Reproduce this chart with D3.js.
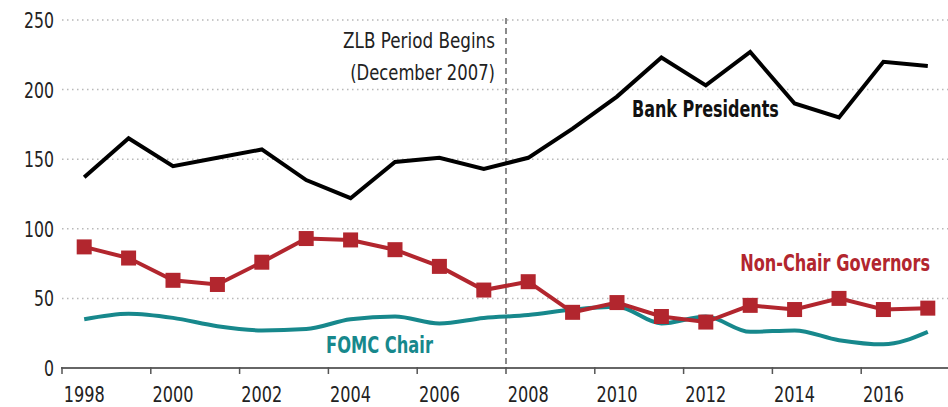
<!DOCTYPE html>
<html><head><meta charset="utf-8">
<script src="https://cdn.jsdelivr.net/npm/d3@7"></script>
<style>
html,body{margin:0;padding:0;background:#fff;}
svg{display:block;font-family:"Liberation Sans Narrow","DejaVu Sans Condensed","Liberation Sans",sans-serif;}
</style></head>
<body><svg id="c" width="948" height="407"></svg>
<script>
const years = [1998,1999,2000,2001,2002,2003,2004,2005,2006,2007,2008,2009,2010,2011,2012,2013,2014,2015,2016,2017];
const bankPresidents = [137,165,145,151,157,135,122,148,151,143,151,172,195,223,203,227,190,180,220,217];
const nonChairGovernors = [87,79,63,60,76,93,92,85,73,56,62,40,47,37,33,45,42,50,42,43];
const fomcChair = [35,39,36,30,27,28,35,37,32,36,38,42,44,32,37,26,27,20,17,26];
const yTicks = [0,50,100,150,200,250];
const xTickYears = [1998,2000,2002,2004,2006,2008,2010,2012,2014,2016];

const svg = d3.select("#c");
const x = d3.scaleLinear().domain([1998, 2018]).range([62, 950]);
const y = d3.scaleLinear().domain([0, 250]).range([368, 20]);
const cx = yr => x(yr + 0.5);

// condensed text: draw at natural width, then scale horizontally to the target width
function fitText(str, px, py, w, anchor, size, weight, color) {
  const t = svg.append("text").attr("x", 0).attr("y", 0)
    .attr("text-anchor", anchor).attr("font-size", size)
    .attr("font-weight", weight).attr("fill", color).text(str);
  const L = t.node().getComputedTextLength();
  t.attr("transform", `translate(${px},${py}) scale(${w / L},1)`);
  return t;
}

// gridlines
svg.append("g").selectAll("line").data(yTicks.filter(d => d > 0)).join("line")
  .attr("x1", 62).attr("x2", 948)
  .attr("y1", d => y(d)).attr("y2", d => y(d))
  .attr("stroke", "#b8b8b8").attr("stroke-width", 1.5)
  .attr("stroke-dasharray", "1.5,3.5");

// y labels
yTicks.forEach(d => fitText(String(d), 54, y(d) + 8, String(d).length * 10, "end", 22, "normal", "#222"));

// x axis
svg.append("line").attr("x1", 61).attr("x2", 948).attr("y1", y(0)).attr("y2", y(0))
  .attr("stroke", "#666").attr("stroke-width", 2);
svg.append("g").selectAll("line").data(xTickYears).join("line")
  .attr("x1", d => x(d)).attr("x2", d => x(d))
  .attr("y1", y(0) - 1).attr("y2", y(0) + 6)
  .attr("stroke", "#555").attr("stroke-width", 1.5);
xTickYears.forEach(d => fitText(String(d), cx(d), 402, 41, "middle", 22, "normal", "#222"));

// ZLB dashed line
svg.append("line").attr("x1", x(2008)).attr("x2", x(2008)).attr("y1", 18).attr("y2", y(0))
  .attr("stroke", "#666").attr("stroke-width", 1.5).attr("stroke-dasharray", "6,4");
fitText("ZLB Period Begins", 495, 48, 152, "end", 21, "normal", "#222");
fitText("(December 2007)", 495, 80, 145, "end", 21, "normal", "#222");

const teal = "#17888c", red = "#b2262e";

const lineStraight = d3.line().x((d,i) => cx(years[i])).y(d => y(d));
const lineSmooth = d3.line().x((d,i) => cx(years[i])).y(d => y(d)).curve(d3.curveMonotoneX);

svg.append("path").datum(fomcChair).attr("d", lineSmooth)
  .attr("fill", "none").attr("stroke", teal).attr("stroke-width", 4);
svg.append("path").datum(nonChairGovernors).attr("d", lineStraight)
  .attr("fill", "none").attr("stroke", red).attr("stroke-width", 4);
svg.append("g").selectAll("rect").data(nonChairGovernors).join("rect")
  .attr("x", (d,i) => cx(years[i]) - 7.5).attr("y", d => y(d) - 7.5)
  .attr("width", 15).attr("height", 15).attr("fill", red);
svg.append("path").datum(bankPresidents).attr("d", lineStraight)
  .attr("fill", "none").attr("stroke", "#000").attr("stroke-width", 4)
  .attr("stroke-linejoin", "miter");

// series labels
fitText("Bank Presidents", 632, 117, 147, "start", 23, "bold", "#111");
fitText("Non-Chair Governors", 930, 271, 190, "end", 23, "bold", red);
fitText("FOMC Chair", 326, 353, 107, "start", 23, "bold", teal);
</script></body></html>
